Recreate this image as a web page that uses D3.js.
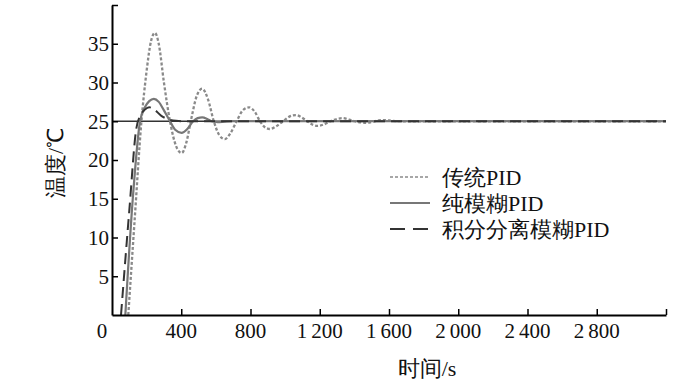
<!DOCTYPE html>
<html>
<head>
<meta charset="utf-8">
<script src="https://cdn.jsdelivr.net/npm/d3@7"></script>
<style>
  body { margin: 0; background: #fff; }
</style>
</head>
<body>
<svg id="chart" width="700" height="382"></svg>
<script>
// time (s), temperature (°C)
const tradPid = [[94,0],[130,12],[170,25],[200,31.5],[225,35.3],[248,36.4],[270,35],[300,30],[335,25],[370,21.8],[402,20.9],[430,22.3],[455,25],[490,28.3],[521,29.2],[555,27.8],[588,25],[620,23.2],[652,22.7],[685,23.5],[720,25],[755,26.4],[792,26.8],[825,26.2],[855,25],[885,24.2],[912,24.0],[945,24.3],[988,25],[1025,25.6],[1062,25.8],[1095,25.5],[1128,25],[1160,24.55],[1189,24.4],[1225,24.6],[1262,25],[1300,25.3],[1333,25.4],[1370,25.2],[1400,25],[1440,24.85],[1470,24.8],[1500,24.9],[1540,25.1],[1580,25.15],[1620,25.05],[1700,25],[3200,25]]
const fuzzyPid = [[77,0],[120,15],[162,25],[190,26.8],[215,27.6],[242,27.9],[270,27.5],[300,26.4],[335,25],[365,23.9],[402,23.5],[435,24],[469,25],[495,25.4],[521,25.5],[550,25.3],[575,25],[610,24.9],[650,24.95],[700,25],[3200,25]]
const sepFuzzyPid = [[52,0],[100,13.5],[140,24],[165,25.8],[190,26.5],[215,26.8],[250,26.4],[285,25.7],[320,25.3],[370,25.05],[420,25],[3200,25]]
const setpoint = [[0,25],[3200,25]]

const xTicks = [0, 400, 800, 1200, 1600, 2000, 2400, 2800]
const yTicks = [5, 10, 15, 20, 25, 30, 35]
const legendNames = ['传统PID', '纯模糊PID', '积分分离模糊PID']

const font = "'Liberation Serif'"

const svg = d3.select('#chart')
const margin = { top: 5, right: 34, bottom: 67, left: 112 }
const width = 700, height = 382

const x = d3.scaleLinear().domain([0, 3200]).range([margin.left, width - margin.right])
const y = d3.scaleLinear().domain([0, 40]).range([height - margin.bottom, margin.top])

const line = d3.line()
  .x(d => x(d[0]))
  .y(d => y(d[1]))
  .curve(d3.curveMonotoneX)

const styles = [
  { color: '#8a8a8a', width: 2.3, dash: '3,2' },
  { color: '#777', width: 2.2, dash: null },
  { color: '#333', width: 2, dash: '11,6' }
]

const plot = svg.append('g')

plot.append('path').datum(setpoint)
  .attr('fill', 'none').attr('stroke', '#333').attr('stroke-width', 1.5)
  .attr('d', line)

;[tradPid, fuzzyPid, sepFuzzyPid].forEach((s, i) => {
  plot.append('path').datum(s)
    .attr('fill', 'none')
    .attr('stroke', styles[i].color)
    .attr('stroke-width', styles[i].width)
    .attr('stroke-dasharray', styles[i].dash)
    .attr('d', line)
})

// axes
const xAxis = svg.append('g').attr('transform', `translate(0,${y(0)})`)
  .call(d3.axisBottom(x).tickValues(xTicks.slice(1).concat([3200])).tickSizeInner(-6).tickSizeOuter(0).tickFormat(''))
xAxis.select('.domain').attr('stroke', '#000').attr('stroke-width', 2)
xAxis.selectAll('.tick line').attr('stroke', '#000').attr('stroke-width', 1.5)

const yAxis = svg.append('g').attr('transform', `translate(${x(0)},0)`)
  .call(d3.axisLeft(y).tickValues(yTicks.concat([40])).tickSizeInner(-6).tickSizeOuter(0).tickFormat(''))
yAxis.select('.domain').attr('stroke', '#000').attr('stroke-width', 2)
yAxis.selectAll('.tick line').attr('stroke', '#000').attr('stroke-width', 1.5)

const fmt = v => v >= 1000 ? Math.floor(v / 1000) + '\u2009' + d3.format('03d')(v % 1000) : String(v)

const labels = svg.append('g').attr('fill', '#111')

labels.append('g').selectAll('text').data(xTicks).join('text')
  .attr('x', d => d === 0 ? x(d) - 10 : x(d))
  .attr('y', 338)
  .attr('text-anchor', 'middle')
  .style('font-family', font)
  .style('font-size', '21px')
  .text(fmt)

labels.append('g').selectAll('text').data(yTicks).join('text')
  .attr('x', x(0) - 3)
  .attr('y', d => y(d))
  .attr('dy', '0.35em')
  .attr('text-anchor', 'end')
  .style('font-family', font)
  .style('font-size', '21px')
  .text(d => d)

labels.append('text')
  .attr('transform', 'translate(63,163) rotate(-90)')
  .attr('text-anchor', 'middle')
  .style('font-family', font)
  .style('font-size', '22px')
  .text('温度/℃')

labels.append('text')
  .attr('x', 427).attr('y', 376)
  .attr('text-anchor', 'middle')
  .style('font-family', font)
  .style('font-size', '22px')
  .text('时间/s')

// legend
const legend = labels.append('g')
legendNames.forEach((name, i) => {
  const ly = 177 + i * 26
  legend.append('line')
    .attr('x1', 390).attr('x2', 430).attr('y1', ly).attr('y2', ly)
    .attr('stroke', styles[i].color)
    .attr('stroke-width', i === 0 ? 1.5 : 2)
    .attr('stroke-dasharray', i === 0 ? '3,2' : styles[i].dash ? '15,8' : null)
  legend.append('text')
    .attr('x', 442).attr('y', ly).attr('dy', '0.35em')
    .style('font-family', font)
    .style('font-size', '22px')
    .text(name)
})
</script>
</body>
</html>
